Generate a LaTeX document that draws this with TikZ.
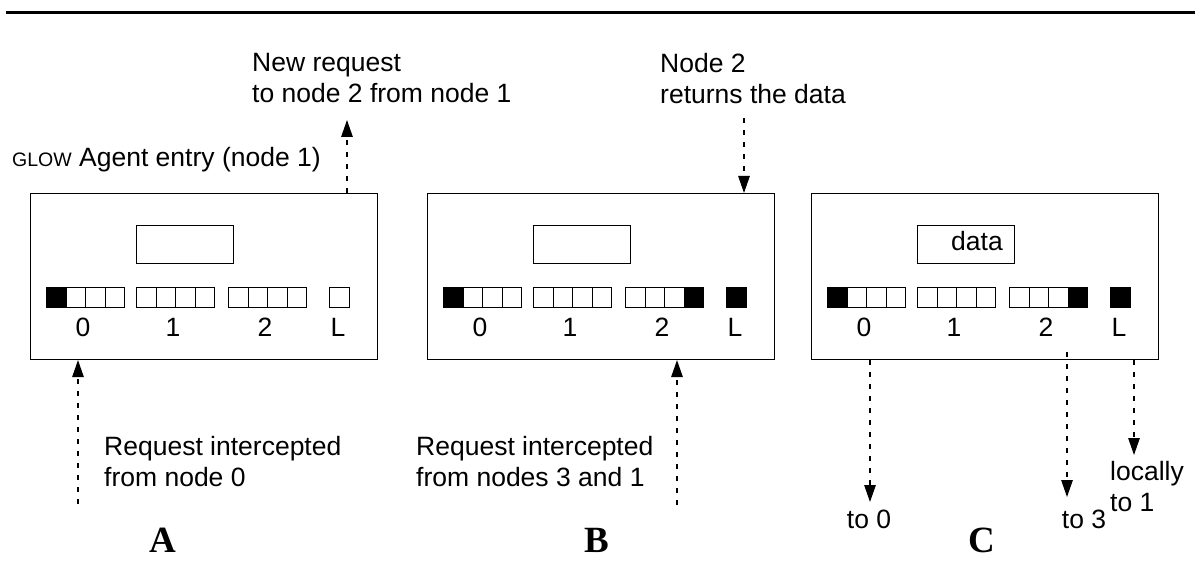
\documentclass[tikz,border=0pt]{standalone}
\usepackage{fontspec}
\setmainfont{Liberation Sans}
\newfontfamily\panelserif{Liberation Serif}
\usetikzlibrary{arrows.meta}
\tikzset{
 panelbox/.style={draw, line width=1.1pt, inner sep=0, anchor=north west, minimum width=347pt, minimum height=166pt},
 innerbox/.style={draw, line width=1.1pt, inner sep=0, anchor=north west, minimum width=97pt, minimum height=38pt},
 cell/.style={draw, line width=1.1pt, inner sep=0, anchor=north west, minimum width=19.5pt, minimum height=20pt},
 lbl/.style={font=\fontsize{26.5}{31}\selectfont, inner sep=0, anchor=base},
 txt/.style={font=\fontsize{26.5}{31}\selectfont, inner sep=0, align=left, anchor=north west},
 panelname/.style={font=\fontsize{37}{40}\panelserif\bfseries, inner sep=0, anchor=base},
 flow/.style={line width=1.3pt, dash pattern=on 5pt off 7pt, -{Triangle[length=17pt,width=11.5pt]}},
}
\newcommand\drawpanel[2]{%
 \begin{scope}[xshift=#2pt]
  \node[panelbox] (#1box) at (0,193) {};
  \node[innerbox] (#1mem) at (106,225) {};
  \foreach \g/\gx in {0/16,1/106,2/198} {
   \foreach \c in {0,...,3} {
    \node[cell] (#1c\g\c) at ({\gx+19.5*\c},287) {};
   }
  }
  \node[cell] (#1L) at (299,287) {};
  \node[lbl] (#1l0) at (53,337) {0};
  \node[lbl] (#1l1) at (143,337) {1};
  \node[lbl] (#1l2) at (235,337) {2};
  \node[lbl] (#1lL) at (308,337) {L};
 \end{scope}
 \fill (#1c00.north west) rectangle (#1c00.south east);
}
\begin{document}
\begin{tikzpicture}[x=1pt,y=-1pt]
\useasboundingbox (0,0) rectangle (1195,572);
\draw[line width=3pt] (6,12.7) -- (1195,12.7);

\drawpanel{A}{30}
\drawpanel{B}{427}
\drawpanel{C}{811}
\foreach \p in {B,C} {
 \fill (\p c23.north west) rectangle (\p c23.south east);
 \fill (\p L.north west) rectangle (\p L.south east);
}
\node[lbl] (data) at (977,251) {data};

% texts
\node[txt] (newreq) at (252,53) {New request\\to node 2 from node 1};
\node[txt] (retdata) at (660,53) {Node 2\\returns the data};
\node[font=\fontsize{26.5}{31}\selectfont, inner sep=0, anchor=base west] (glow) at (12,167) {{\fontsize{19.5}{22}\selectfont GLOW} Agent entry (node 1)};
\node[txt] (reqA) at (104,436) {Request intercepted\\from node 0};
\node[txt] (reqB) at (416,436) {Request intercepted\\from nodes 3 and 1};
\node[lbl] (to0) at (869,528) {to 0};
\node[lbl] (to3) at (1084,528) {to 3};
\node[txt] (loc) at (1110,461) {locally\\to 1};
\node[panelname] (nameA) at (163,552) {A};
\node[panelname] (nameB) at (597,552) {B};
\node[panelname] (nameC) at (982,552) {C};

% arrows
\coordinate (Aq) at (78,504);
\draw[flow] (Aq) -- (Abox.south -| Aq);
\coordinate (Anew) at (347,120);
\draw[flow] (Abox.north -| Anew) -- (Anew);
\coordinate (Bret) at (744,118);
\draw[flow] (Bret) -- (Bbox.north -| Bret);
\coordinate (Bq) at (677,505);
\draw[flow] (Bq) -- (Bbox.south -| Bq);
\coordinate (Cto0) at (870,502);
\draw[flow] (Cbox.south -| Cto0) -- (Cto0);
\coordinate (Cto3a) at (1067,352);
\coordinate (Cto3) at (1067,497);
\draw[flow] (Cto3a) -- (Cto3);
\coordinate (Cloc) at (1134,455);
\draw[flow] (Cbox.south -| Cloc) -- (Cloc);
\end{tikzpicture}
\end{document}
